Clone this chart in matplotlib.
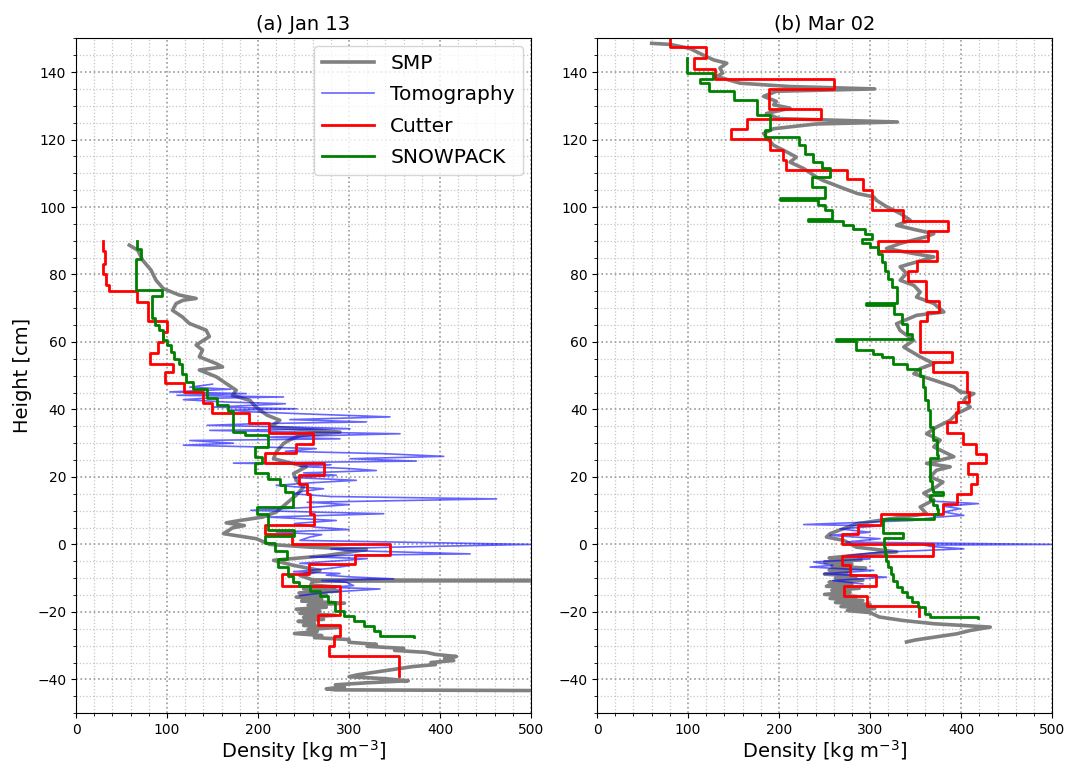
import numpy as np
import matplotlib
matplotlib.use("Agg")
import matplotlib.pyplot as plt
from matplotlib.ticker import MultipleLocator

# ---- (a) Jan 13 ----
# SMP profile (height cm, density kg m-3)
smp_a_h = [88.7, 87.2, 84.2, 81.3, 78.3, 75.8, 73.9, 72.9, 72.4, 71.4,
           69.4, 67.4, 65.5, 63.5, 61.6, 59.1, 57.6, 55.6, 53.6, 52.6,
           51.7, 49.7, 47.7, 45.7, 44.2, 42.7, 41.2, 39.8, 38.3, 36.8,
           34.8, 33.3, 32.3, 31.0, 29.9, 27.4, 25.4, 23.0, 21.0, 19.0,
           17.0, 14.6, 12.1, 9.6, 8.1, 7.1, 6.4, 5.6, 4.9, 3.2,
           1.7, 0.0, -0.8, -1.5, -1.8, -3.3, -4.7, -6.2, -7.7, -9.2,
           -10.5, -10.7, -10.9, -12.0, -12.6, -13.2, -13.8, -14.4, -15.0, -15.6,
           -16.2, -16.8, -17.4, -18.0, -18.6, -19.2, -19.8, -20.4, -21.0, -21.6,
           -22.2, -22.8, -23.4, -24.0, -24.6, -25.2, -25.8, -26.4, -27.0, -27.6,
           -28.2, -29.0, -29.6, -30.2, -30.8, -31.4, -32.0, -32.6, -33.2, -33.8,
           -34.4, -35.0, -35.6, -36.2, -36.8, -37.4, -38.0, -38.6, -39.2, -39.8,
           -40.4, -41.0, -41.6, -42.2, -42.8, -43.1, -43.3]
smp_a_d = [58.6, 67.8, 73.3, 82.4, 87.9, 96, 113.6, 132, 118, 110,
           106, 117, 124.5, 143, 146.5, 132, 139, 135.5, 154, 161,
           135.5, 154, 165, 176, 172, 191, 196, 202, 210, 224,
           213, 290, 246, 235, 228, 220, 217, 253, 239, 242,
           250, 242, 231, 220, 205, 180, 165, 185, 172, 162,
           198, 213, 257, 319, 312, 275, 217, 239, 268, 246,
           260, 500, 260, 258, 285, 250, 290, 245, 275, 242,
           270, 248, 295, 255, 275, 242, 268, 246, 285, 250,
           272, 244, 262, 250, 288, 255, 265, 240, 270, 262,
           300, 300, 330, 320, 360, 350, 385, 395, 418, 405,
           415, 390, 395, 370, 355, 340, 325, 310, 300, 340,
           365, 320, 285, 295, 275, 285, 500]

# Tomography profile
tomo_a_h = [47.5, 46.6, 46.0, 45.2, 44.7, 44.2, 43.7, 43.3, 42.9, 42.2,
            41.7, 41.2, 40.7, 40.2, 39.8, 39.3, 38.6, 37.8, 37.0, 36.3,
            35.8, 35.3, 34.8, 34.3, 33.8, 33.3, 32.8, 32.3, 31.8, 31.3,
            30.8, 30.0, 29.4, 28.9, 28.4, 27.6, 26.9, 26.1, 25.4, 24.7,
            24.1, 23.6, 23.1, 22.5, 21.9, 21.2, 20.5, 19.8, 19.0, 18.3,
            17.5, 16.5, 15.8, 15.0, 14.2, 13.5, 12.5, 11.8, 11.1, 10.1,
            9.6, 9.1, 8.1, 7.6, 7.1, 6.2, 5.1, 4.4, 3.7, 2.9,
            2.2, 1.2, 0.0, -0.8, -1.3, -1.8, -2.8, -3.2, -3.7, -4.2,
            -4.7, -5.6, -6.3, -7.1, -8.1, -8.6, -9.1, -9.6, -10.2, -10.7,
            -11.2, -12.2, -12.7, -13.2, -14.2, -15.2]
tomo_a_d = [150, 125, 170, 103, 187, 111, 228, 140, 118, 166,
            230, 192, 150, 242, 170, 192, 260, 345, 235, 319,
            200, 144, 240, 301, 147, 250, 356, 280, 210, 290,
            125, 173, 118, 200, 264, 230, 338, 404, 301, 374,
            173, 280, 246, 300, 330, 250, 286, 240, 308, 260,
            220, 272, 250, 239, 280, 462, 254, 300, 264, 192,
            260, 338, 210, 250, 286, 240, 264, 300, 220, 270,
            257, 246, 500, 349, 280, 297, 433, 300, 257, 320,
            297, 246, 300, 279, 239, 290, 275, 300, 349, 270,
            297, 305, 280, 334, 275, 246]

# Cutter layers: boundaries (top -> bottom) and layer densities
cut_a_h = [90, 87, 83, 80, 77, 75, 71.8, 66.2, 63, 60, 56.8, 53.6, 51.1,
           47.9, 45.2, 41.9, 39, 36, 33, 29.9, 27.1, 24.1, 20.5, 17.8, 15,
           9.1, 5.9, 3, 0, -3, -5.9, -8.7, -12.2, -21, -24, -27, -30.2, -33, -39]
cut_a_d = [30, 32, 30, 33, 36, 67, 79, 100, 96, 90, 81, 107, 98,
           119, 140, 149, 190, 212, 260, 242, 208, 272, 245, 254,
           257, 261, 208, 237, 345, 307, 256, 226, 290, 266, 290, 283, 278, 355]

# SNOWPACK layers
sp_a_h = [90, 87.5, 84.5, 75.5, 73.6, 68.9, 67, 65, 63.5, 60.5, 59, 57, 55,
          53.6, 50.6, 48.2, 46.2, 43.5, 41.3, 39.5, 33.3, 32.3, 28.9, 26, 24,
          21.2, 19.5, 17.5, 15.5, 11.1, 9.1, 4.4, 2.4, 0.5, -1.8, -4.3, -6.7,
          -9.5, -11.2, -12.2, -13.7, -15.2, -17.2, -19.7, -21.2, -22.7, -24.2,
          -25.7, -27.2, -27.4]
sp_a_d = [67, 71, 66, 94.5, 84, 83, 87, 91, 96, 100, 104, 108, 113.6,
          117, 121, 128, 143.6, 154.6, 167.4, 173, 185.7, 211, 196.7, 204,
          196.7, 211, 224, 229.7, 238.8, 199.3, 211, 239, 208, 219, 231.5,
          222, 233, 238, 245, 257, 268, 277, 285, 294, 305, 316, 327, 334, 371]

# ---- (b) Mar 02 ----
smp_b_h = [148.5, 148.2, 147.0, 145.5, 143.6, 142.6, 141.2, 139.7, 138.7, 136.7,
           135.7, 135.0, 134.3, 132.8, 131.3, 130.3, 129.3, 127.7, 126.2, 125.2,
           124.6, 123.2, 121.8, 120.3, 118.3, 116.8, 114.8, 113.3, 111.4, 108.9,
           107.9, 105.5, 104.0, 103.0, 102.0, 100.1, 98.1, 96.1, 94.6, 93.2,
           92.1, 91.2, 89.2, 87.7, 86.2, 85.2, 83.7, 82.3, 80.3, 78.3,
           76.8, 74.8, 73.3, 71.4, 68.9, 67.9, 65.4, 63.4, 60.5, 58.5,
           55.6, 53.6, 52.1, 50.6, 48.7, 46.7, 45.2, 44.7, 43.5, 42.7,
           40.7, 38.7, 36.8, 34.8, 32.8, 30.9, 28.9, 26.0, 25.0, 24.0,
           23.0, 22.0, 20.0, 18.5, 17.1, 15.2, 13.2, 11.1, 9.1, 7.6,
           6.1, 3.2, 2.2, 1.2, -0.8, -2.2, -3.4, -4.0, -4.6, -5.2,
           -5.8, -6.4, -7.0, -7.6, -8.2, -8.8, -9.4, -10.0, -10.6, -11.2,
           -11.8, -12.4, -13.0, -13.6, -14.2, -14.8, -15.4, -16.0, -16.6, -17.2,
           -17.8, -18.4, -19.0, -19.6, -20.2, -21.5, -22.5, -23.5, -24.5, -25.5,
           -26.5, -27.5, -28.3, -28.9]
smp_b_d = [60, 80, 102, 113, 128, 142.5, 135, 138, 131.5, 157,
           212, 305, 197, 183, 197, 194, 212, 186, 200, 330,
           240, 194, 183, 187, 194, 205, 219, 212, 227, 241,
           248, 271, 286, 304, 307, 318, 333, 344, 329, 351,
           370, 362, 333, 318, 348, 370, 351, 333, 340, 333,
           348, 355, 351, 370, 381, 351, 329, 333, 348, 337,
           355, 370, 355, 348, 370, 392, 399, 414, 405, 403,
           410, 395, 388, 373, 362, 377, 370, 392, 377, 362,
           388, 373, 366, 380, 373, 359, 370, 355, 362, 322,
           285, 256, 252, 271, 285, 329, 278, 255, 290, 250,
           280, 258, 295, 255, 275, 250, 285, 262, 292, 255,
           280, 252, 288, 258, 278, 250, 285, 256, 292, 262,
           300, 268, 305, 275, 300, 310, 335, 370, 432, 410,
           395, 370, 350, 340]

tomo_b_h = [12.8, 12.1, 11.3, 10.6, 9.6, 8.6, 8.1, 7.1, 5.9, 5.5,
            4.6, 3.6, 2.7, 1.7, 0.7, 0.0, -0.2, -0.6, -1.3, -2.3,
            -3.3, -4.3, -5.2, -6.2, -6.7, -7.7, -8.7, -9.7, -10.7, -11.7]
tomo_b_d = [370, 419, 381, 399, 381, 403, 373, 347, 227, 311,
            267, 300, 256, 311, 274, 500, 360, 366, 403, 311,
            274, 300, 238, 259, 234, 304, 249, 318, 259, 292]

cut_b_h = [150, 147.3, 144.3, 141, 138, 135, 129, 126.1, 123.1, 120.1, 117,
           114, 111.1, 108.2, 105, 99.1, 95.9, 93, 90, 87, 84, 81.1, 78.1,
           72.2, 69, 66.2, 57, 54, 51.1, 45.2, 42.2, 39.3, 36.3, 33, 29.9,
           26.9, 24, 21, 18, 15, 12.1, 9.1, 5.9, 3.2, 0, -3.3, -6.2, -9.2,
           -12.2, -15.2, -18.1, -21.1]
cut_b_d = [80, 120, 106, 129.5, 260, 189, 245.6, 164.6, 147, 190, 204,
           208, 275, 292, 302, 336.6, 386, 364, 309, 373, 351.4, 342, 361.5,
           376, 362, 355, 389.7, 369, 406, 409, 397, 394.5, 384, 402, 416.5,
           427.5, 408, 417, 410.6, 395, 380.6, 311.7, 287, 269.6, 369.6, 269,
           278, 306.6, 271.4, 296.3, 354]

sp_b_h = [144.1, 139.8, 137.8, 136.7, 134.5, 131.7, 127.2, 122.8, 120.8, 118.3,
          115.8, 113.3, 111.7, 108.9, 106, 102.6, 102.0, 100.5, 99.1, 96.3,
          95.8, 94.6, 93.6, 92.1, 90.5, 89.2, 88.2, 86, 83.7, 81,
          78.8, 76.3, 71.6, 71.1, 68.4, 65.4, 62.5, 60.9, 60.3, 57.7,
          56.5, 55.6, 53.6, 52.1, 49.8, 46.7, 42.7, 39.7, 34.8, 30.9,
          26.4, 25.5, 18.9, 16.5, 15.5, 14.6, 13.3, 11.8, 10.5, 9.1,
          7.4, 3.3, 2, -0.8, -2.8, -4.9, -6.8, -8.7, -10.7, -12.7,
          -14.2, -15.7, -17, -18.5, -20.6, -21.6, -21.9]
sp_b_d = [98.5, 127, 113, 123.5, 150, 175.5, 190, 184.6, 222.3, 228.5,
          237, 247, 256, 236, 250.5, 201, 243, 250.6, 258, 232,
          270.7, 281.6, 294.5, 301.8, 290.8, 300, 309, 312.8, 316.5, 320,
          323.8, 329, 296, 326.4, 334.8, 340, 345.7, 262, 285, 303.7,
          312.8, 325.6, 340, 355, 358.6, 360.4, 364, 366, 369.6, 373.3,
          375, 366, 368, 369.6, 380, 366, 369.6, 373, 375, 370.6,
          314, 336.6, 315.4, 316, 318, 320, 323, 325.6, 329.3, 334.8,
          340.3, 345.7, 353, 360.4, 366, 418]

titles = ["(a) Jan 13", "(b) Mar 02"]


def layers(bounds, dens):
    # turn layer boundaries + densities into a step profile
    y = np.repeat(np.asarray(bounds, float), 2)[1:-1]
    x = np.repeat(np.asarray(dens, float), 2)
    return x, y


panels = [
    (smp_a_h, smp_a_d, tomo_a_h, tomo_a_d, cut_a_h, cut_a_d, sp_a_h, sp_a_d),
    (smp_b_h, smp_b_d, tomo_b_h, tomo_b_d, cut_b_h, cut_b_d, sp_b_h, sp_b_d),
]

fig, axes = plt.subplots(1, 2, figsize=(10.66, 7.66), dpi=100)
plt.subplots_adjust(left=0.0713, right=0.987, bottom=0.069, top=0.950, wspace=0.145)

for ax, p, title in zip(axes, panels, titles):
    sh, sd, th, td, ch, cd, ph, pd_ = p
    ax.plot(sd, sh, color="grey", lw=2.6, label="SMP")
    ax.plot(td, th, color="blue", lw=1.2, alpha=0.6, label="Tomography")
    cx, cy = layers(ch, cd)
    ax.plot(cx, cy, color="red", lw=2, label="Cutter")
    gx, gy = layers(ph, pd_)
    ax.plot(gx, gy, color="green", lw=2, label="SNOWPACK")

    ax.set_xlim(0, 500)
    ax.set_ylim(-50, 150)
    ax.xaxis.set_major_locator(MultipleLocator(100))
    ax.xaxis.set_minor_locator(MultipleLocator(20))
    ax.yaxis.set_major_locator(MultipleLocator(20))
    ax.yaxis.set_minor_locator(MultipleLocator(5))
    ax.grid(which="major", linestyle=":", color="0.6", lw=1.2)
    ax.grid(which="minor", linestyle=":", color="0.78", lw=0.9)
    ax.tick_params(labelsize=10)
    ax.set_title(title, fontsize=14)
    ax.set_xlabel("Density [kg m$^{-3}$]", fontsize=14, labelpad=1)

axes[0].set_ylabel("Height [cm]", fontsize=14)
axes[0].legend(loc="upper right", fontsize=14.5, handlelength=2.6,
               borderaxespad=0.4, labelspacing=0.6)

fig.savefig("out.png", dpi=100)
